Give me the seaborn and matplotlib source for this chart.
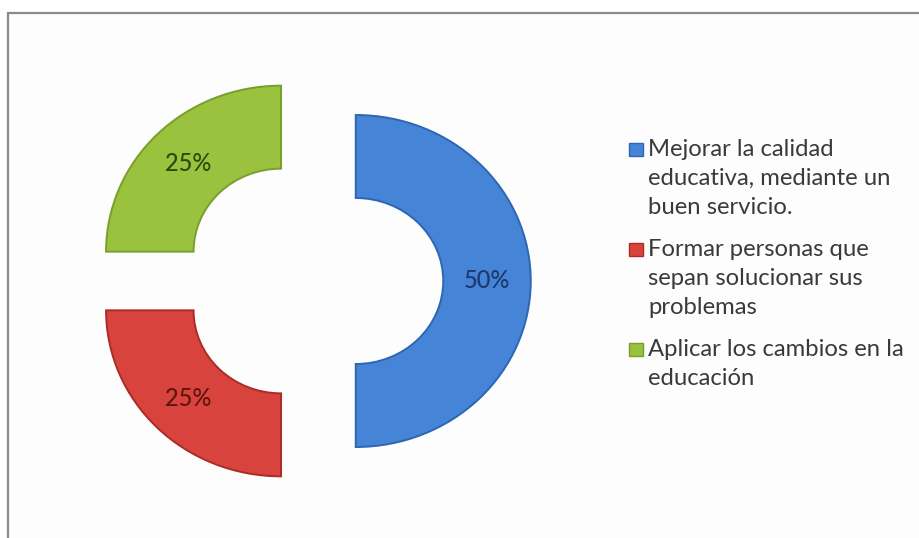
import matplotlib
matplotlib.use("Agg")
import matplotlib.pyplot as plt
from matplotlib.patches import Rectangle
import seaborn as sns

# Survey answers (legend text wrapped as shown) and their shares in percent
categories = [
    "Mejorar la calidad\neducativa, mediante un\nbuen servicio.",
    "Formar personas que\nsepan solucionar sus\nproblemas",
    "Aplicar los cambios en la\neducación",
]
shares = [50, 25, 25]

fill_colors = ["#4584D6", "#D8443D", "#9AC23E"]
edge_colors = ["#2D66B2", "#A92C26", "#77A02A"]
label_colors = ["#1C3A6E", "#5E1510", "#2E4A0C"]

sns.set_theme(style="white")
plt.rcParams["font.family"] = ["Lato", "DejaVu Sans"]

W, H = 920, 538
fig = plt.figure(figsize=(W / 100, H / 100), dpi=100)
fig.patch.set_facecolor("white")

# Pixel-space overlay for the chart frame and the legend
overlay = fig.add_axes([0, 0, 1, 1])
overlay.set_xlim(0, W)
overlay.set_ylim(H, 0)
overlay.axis("off")
overlay.add_patch(Rectangle((8, 13), W + 20, H + 20, facecolor="#fdfdfd",
                            edgecolor="#8a8a8a", linewidth=1.6, zorder=0))

# Exploded doughnut
cx, cy = 312, 281          # centre of the doughnut in pixels
rx, ry = 175, 166          # pixels per unit radius (horizontal / vertical)
lim = 1.5
ax = fig.add_axes([(cx - lim * rx) / W, (H - cy - lim * ry) / H,
                   2 * lim * rx / W, 2 * lim * ry / H])
ax.patch.set_alpha(0)
wedges, _, autotexts = ax.pie(
    shares,
    colors=fill_colors,
    startangle=90,
    counterclock=False,
    explode=[0.25] * len(shares),
    radius=1,
    wedgeprops=dict(width=0.5, linewidth=1.4),
    autopct="%.0f%%",
    pctdistance=0.75,
    textprops=dict(fontsize=17, fontweight="medium"),
)
for w, ec in zip(wedges, edge_colors):
    w.set_edgecolor(ec)
for t, c in zip(autotexts, label_colors):
    t.set_color(c)
ax.set_xlim(-lim, lim)
ax.set_ylim(-lim, lim)
ax.set_aspect("auto")
ax.axis("off")

# Legend: square swatch beside the first line of each wrapped entry
y = 150
line_step = 28.5
for name, fc, ec in zip(categories, fill_colors, edge_colors):
    overlay.add_patch(Rectangle((629, y - 7), 14, 13, facecolor=fc,
                                edgecolor=ec, linewidth=1.0))
    lines = name.split("\n")
    for i, line in enumerate(lines):
        overlay.text(648, y + i * line_step, line, fontsize=17.2,
                     color="#3a3a3a", va="center", ha="left")
    y += len(lines) * line_step + 14.5

fig.savefig("out.png", dpi=100, facecolor="white")
